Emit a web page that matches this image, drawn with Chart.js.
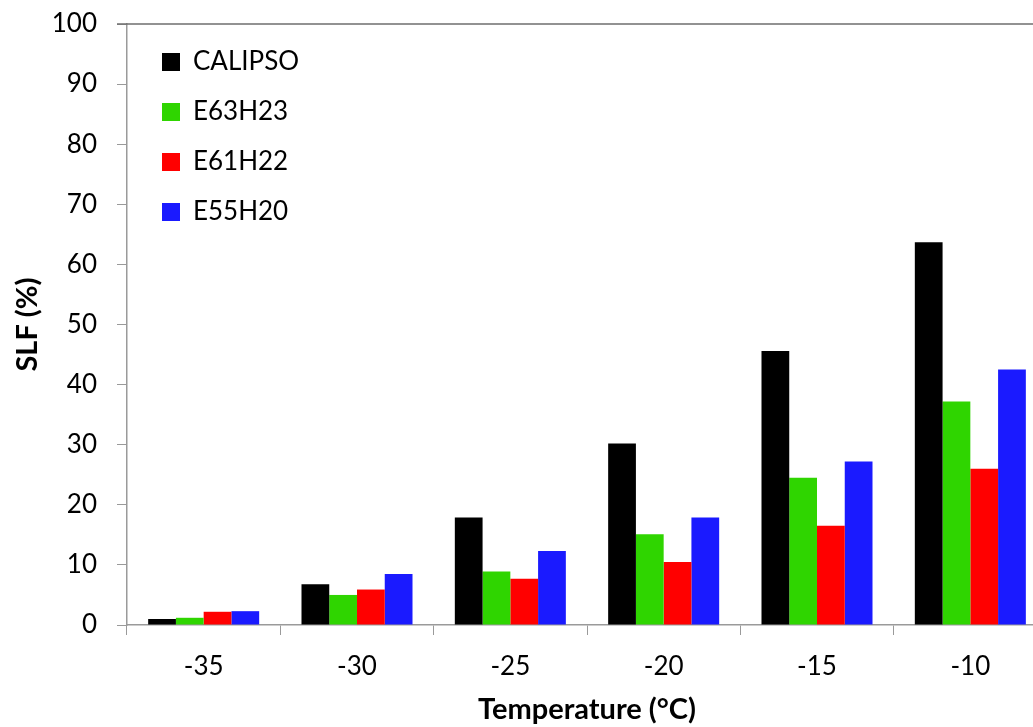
<!DOCTYPE html>
<html>
<head>
<meta charset="utf-8">
<script src="https://cdn.jsdelivr.net/npm/chart.js@4.4.1/dist/chart.umd.min.js"></script>
<style>
  html, body { margin: 0; padding: 0; background: #fff; overflow: hidden; }
  #wrap { width: 1050px; height: 727px; }
</style>
</head>
<body>
<div id="wrap"><canvas id="c" width="1050" height="727"></canvas></div>
<script>
const categories = ["-35", "-30", "-25", "-20", "-15", "-10"];
const seriesNames = ["CALIPSO", "E63H23", "E61H22", "E55H20"];
const calipso = [1.0, 6.8, 17.9, 30.2, 45.6, 63.7];
const e63h23 = [1.2, 5.0, 8.9, 15.1, 24.5, 37.2];
const e61h22 = [2.2, 5.9, 7.7, 10.5, 16.5, 26.0];
const e55h20 = [2.3, 8.5, 12.3, 17.9, 27.2, 42.5];
const colors = ["#000000", "#2fd500", "#ff0000", "#1a1aff"];
const yTitle = "SLF (%)";
const xTitle = "Temperature (°C)";

const FONT = "Lato, 'Open Sans', sans-serif";
const values = [calipso, e63h23, e61h22, e55h20];

const topBorder = {
  id: 'topBorder',
  afterLayout(chart) {
    const lg = chart.legend;
    if (lg) {
      const w = lg.right - lg.left, h = lg.bottom - lg.top;
      lg.left = chart.chartArea.left + 11; lg.right = lg.left + w;
      lg.top = chart.chartArea.top + 1; lg.bottom = lg.top + h;
    }
  },
  afterDraw(chart) {
    const a = chart.chartArea, ctx = chart.ctx;
    ctx.save();
    ctx.strokeStyle = '#6e6e6e';
    ctx.lineWidth = 1.5;
    ctx.beginPath();
    ctx.moveTo(a.left - 10, a.top);
    ctx.lineTo(chart.width, a.top);
    ctx.stroke();
    ctx.restore();
  }
};

new Chart(document.getElementById('c'), {
  type: 'bar',
  data: {
    labels: categories,
    datasets: seriesNames.map((n, i) => ({
      label: n,
      data: values[i],
      backgroundColor: colors[i],
      borderWidth: 0,
      categoryPercentage: 0.724,
      barPercentage: 1.0
    }))
  },
  options: {
    responsive: false,
    animation: false,
    devicePixelRatio: 1,
    layout: { padding: { top: 24, right: 3, bottom: 0, left: 0 } },
    plugins: {
      tooltip: { enabled: false },
      legend: {
        position: 'chartArea',
        align: 'start',
        labels: {
          boxWidth: 18,
          boxHeight: 18,
          padding: 24,
          color: '#000',
          font: { family: FONT, size: 26 }
        }
      }
    },
    scales: {
      x: {
        grid: { display: true, drawOnChartArea: false, drawTicks: true, tickLength: 10, color: '#9a9a9a', offset: true },
        border: { display: true, color: '#9a9a9a', width: 1.5 },
        ticks: { color: '#000', font: { family: FONT, size: 26 }, padding: 16, maxRotation: 0 },
        title: { display: true, text: xTitle, color: '#000', font: { family: FONT, size: 29, weight: 'bold' }, padding: { top: 0, bottom: 0 } },
        afterFit(s) { s.height = 102; }
      },
      y: {
        min: 0, max: 100,
        grid: { display: true, drawOnChartArea: false, drawTicks: true, tickLength: 10, color: '#9a9a9a' },
        border: { display: true, color: '#9a9a9a', width: 1.5 },
        ticks: { stepSize: 10, color: '#000', font: { family: FONT, size: 26 }, padding: 20 },
        title: { display: true, text: yTitle, color: '#000', font: { family: FONT, size: 29, weight: 'bold' }, padding: { top: 10, bottom: 0 } },
        afterFit(s) { s.width = 127; s.paddingTop = 0; s.paddingBottom = 0; }
      }
    }
  },
  plugins: [topBorder]
});
</script>
</body>
</html>
